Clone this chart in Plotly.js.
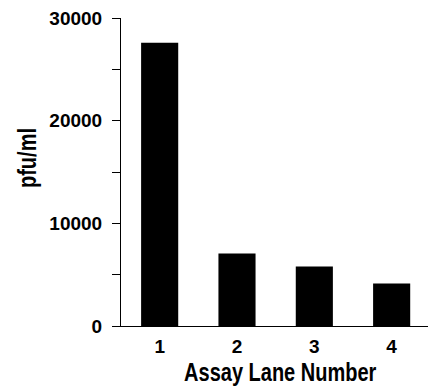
<!DOCTYPE html>
<html>
<head>
<meta charset="utf-8">
<script src="https://cdn.plot.ly/plotly-3.0.1.min.js"></script>
<style>
html,body{margin:0;padding:0;background:#fff;}
#chart{width:428px;height:388px;}
#chart .annotation-text{transform-box:fill-box;transform-origin:center;transform:scaleX(0.8);}
</style>
</head>
<body>
<div id="chart"></div>
<script>
var lanes = [1, 2, 3, 4];
var pfuValues = [27600, 7050, 5800, 4150];
var yTickVals = [0, 10000, 20000, 30000];
var yTickText = ["0", "10000", "20000", "30000"];
var xTitle = "Assay Lane Number";
var yTitle = "pfu/ml";

var titleFont = {family: "'Liberation Sans', Arial, sans-serif", size: 25, color: "#000", weight: "bold"};
var tickFont = {family: "'Liberation Sans', Arial, sans-serif", size: 19, color: "#000", weight: "bold"};

var data = [{
  type: "bar",
  x: lanes,
  y: pfuValues,
  width: 0.48,
  marker: {color: "#000", line: {width: 0}},
  hoverinfo: "skip"
}];

var layout = {
  width: 428,
  height: 388,
  margin: {l: 121, r: 0, t: 18, b: 62},
  paper_bgcolor: "#fff",
  plot_bgcolor: "#fff",
  showlegend: false,
  xaxis: {
    range: [0.5, 4.47],
    tickvals: lanes,
    ticktext: lanes.map(String),
    ticks: "",
    showgrid: false,
    zeroline: false,
    showline: true,
    linecolor: "#000",
    linewidth: 1,
    tickfont: tickFont,
    ticklabelstandoff: 3
  },
  yaxis: {
    range: [0, 30000],
    tickvals: yTickVals,
    ticktext: yTickText,
    ticks: "outside",
    ticklen: 8,
    tickwidth: 1,
    tickcolor: "#000",
    minor: {dtick: 5000, tick0: 0, ticks: "outside", ticklen: 8, tickwidth: 1, tickcolor: "#000", showgrid: false},
    showgrid: false,
    zeroline: false,
    showline: true,
    linecolor: "#000",
    linewidth: 1,
    tickfont: tickFont,
    ticklabelstandoff: 6
  },
  annotations: [
    {text: xTitle, xref: "paper", yref: "paper", x: 0.521, y: -0.149, xanchor: "center", yanchor: "middle", showarrow: false, font: titleFont},
    {text: yTitle, xref: "paper", yref: "paper", x: -0.306, y: 0.544, xanchor: "center", yanchor: "middle", textangle: -90, showarrow: false, font: titleFont}
  ]
};

Plotly.newPlot("chart", data, layout, {displayModeBar: false, staticPlot: true});
</script>
</body>
</html>
